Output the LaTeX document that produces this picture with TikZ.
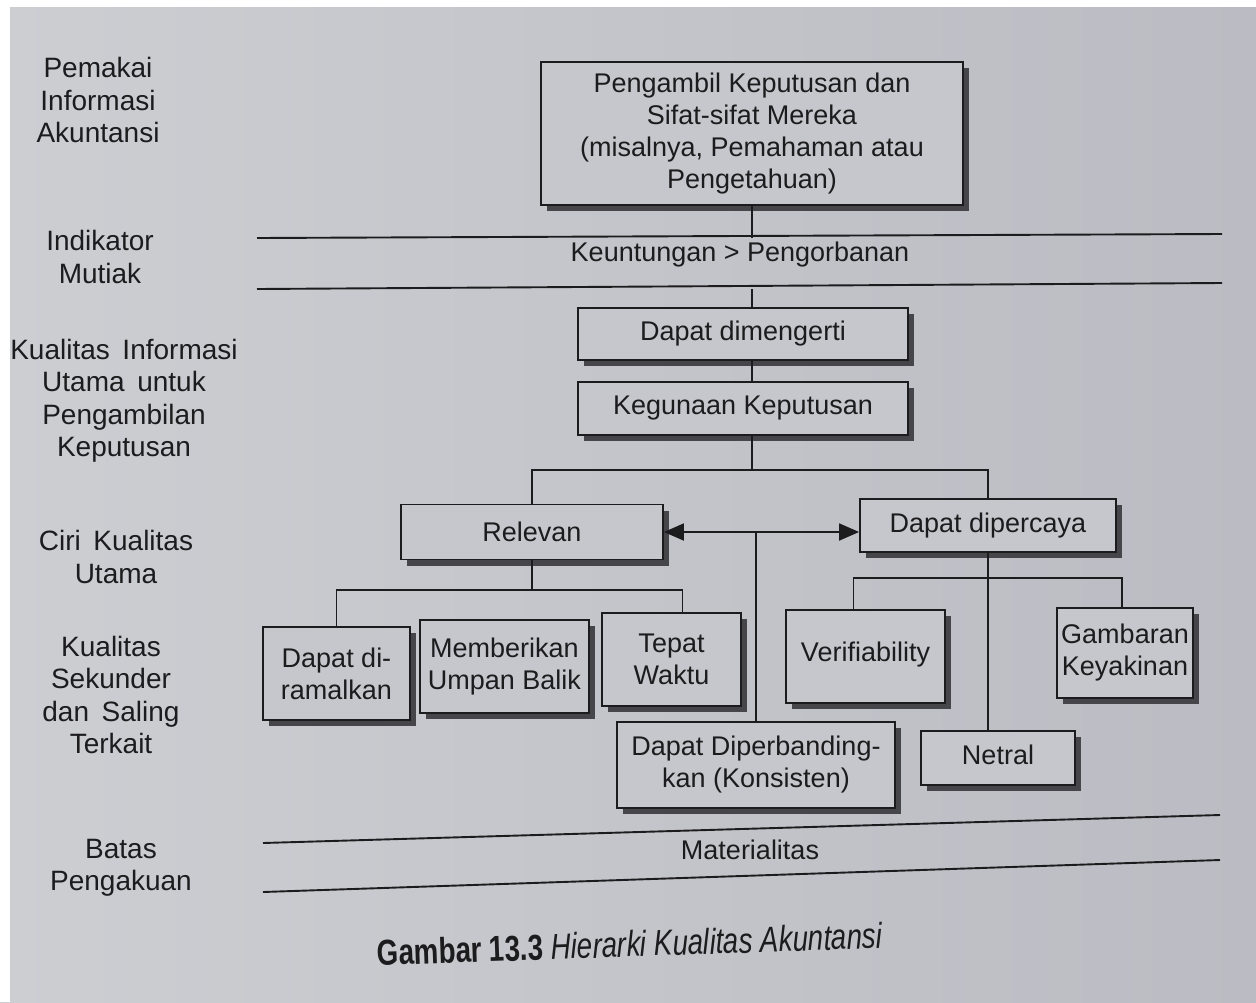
\documentclass[tikz,border=0pt]{standalone}
\usepackage{fontspec}
\setmainfont{Liberation Sans}
\usetikzlibrary{arrows.meta,shadows,calc}
\definecolor{paper}{HTML}{C6C7CC}
\definecolor{paperL}{HTML}{CDCED2}
\definecolor{paperR}{HTML}{BBBCC3}
\definecolor{ink}{HTML}{1C1C1E}
\definecolor{shade}{HTML}{46464A}
% level labels use a slightly larger size with wider word spaces
\newcommand\sidelabelfont{\fontsize{28}{32.5}\selectfont\spaceskip=0.45em\relax}

\begin{document}
\begin{tikzpicture}[x=1pt,y=-1pt,
  every node/.style={text=ink, font=\fontsize{27}{32}\selectfont, inner sep=0pt},
  box/.style={draw=ink, line width=1.8pt, fill=paper, align=center,
    drop shadow={shadow xshift=6pt, shadow yshift=-6pt, fill=shade, opacity=1}},
  sidelabel/.style={align=center, font=\sidelabelfont},
  wire/.style={draw=ink, line width=1.8pt},
  rulepen/.style={draw=ink, line width=1.9pt},
  tip/.style={-{Triangle[length=20pt,width=17pt]}},
]
\useasboundingbox (0,0) rectangle (1256,1002);

% page
\shade[left color=paperL, right color=paperR] (0,0) rectangle (1256,1002);

% level labels on the left
\node[sidelabel] (lvA) at (98,100)  {Pemakai\\Informasi\\Akuntansi};
\node[sidelabel] (lvB) at (100,257) {Indikator\\Mutiak};
\node[sidelabel] (lvC) at (124,401) {Kualitas Informasi\\Utama untuk\\Pengambilan\\Keputusan};
\node[sidelabel] (lvD) at (116,557) {Ciri Kualitas\\Utama};
\node[sidelabel] (lvE) at (111,695) {Kualitas\\Sekunder\\dan Saling\\Terkait};
\node[sidelabel] (lvF) at (121,868) {Batas\\Pengakuan};

% horizontal rules
\coordinate (r1a) at (257,238); \coordinate (r1b) at (1222,234);
\coordinate (r2a) at (257,289); \coordinate (r2b) at (1222,283);
\coordinate (r3a) at (263,843); \coordinate (r3b) at (1220,815);
\coordinate (r4a) at (263,892); \coordinate (r4b) at (1220,860);
\draw[rulepen] (r1a) -- (r1b);
\draw[rulepen] (r2a) -- (r2b);
\draw[rulepen] (r3a) -- (r3b);
\draw[rulepen] (r4a) -- (r4b);
\node (kp)  at (740,255) {Keuntungan > Pengorbanan};
\node (mat) at (750,850) {Materialitas};

% boxes
\node[box, minimum width=422pt, minimum height=143pt] (top) at (752,133.5)
  {Pengambil Keputusan dan\\Sifat-sifat Mereka\\(misalnya, Pemahaman atau\\Pengetahuan)};
\node[box, minimum width=330pt, minimum height=52pt] (dm) at (743,334) {Dapat dimengerti};
\node[box, minimum width=330pt, minimum height=53pt] (kk) at (743,408.5) {Kegunaan Keputusan};
\node[box, minimum width=262pt, minimum height=55pt] (rel) at (532,532) {Relevan};
\node[box, minimum width=256pt, minimum height=53pt] (dp) at (988,525.5) {Dapat dipercaya};

\node[box, minimum width=147pt, minimum height=93pt] (pred) at (336.5,673.5) {Dapat di-\\ramalkan};
\node[box, minimum width=169pt, minimum height=93pt] (umb)  at (504.5,666.5) {Memberikan\\Umpan Balik};
\node[box, minimum width=139pt, minimum height=93pt] (tw)   at (671.5,659.5) {Tepat\\Waktu};
\node[box, minimum width=159pt, minimum height=93pt] (ver)  at (865.5,656.5) {\raisebox{9pt}{Verifiability}};
\node[box, minimum width=136pt, minimum height=90pt] (gk)   at (1125,653) {Gambaran\\Keyakinan};
\node[box, minimum width=278pt, minimum height=86pt] (cmp)  at (756,765) {Dapat Diperbanding-\\kan (Konsisten)};
\node[box, minimum width=154pt, minimum height=54pt] (net)  at (998,758) {\raisebox{6pt}{Netral}};

% spine and branching points
\coordinate (spine) at (752,0);
\coordinate (split) at (752,470);
\coordinate (rsplit) at (532,590);
\coordinate (dsplit) at (988,578);

\draw[wire] (top.south) -- (top.south |- r1a);
\draw[wire] (spine |- r2a) -- (spine |- dm.north);
\draw[wire] (spine |- dm.south) -- (spine |- kk.north);
\draw[wire] (spine |- kk.south) -- (split);
\draw[wire] (rel.north) -- (rel.north |- split) -- (dp.north |- split) -- (dp.north);

% relevance <-> reliability
\draw[wire, tip] ($(rel.east)!0.5!(rel.east -| dp.west)$) -- (rel.east);
\draw[wire, tip] ($(rel.east)!0.5!(rel.east -| dp.west)$) -- (rel.east -| dp.west);
\draw[wire] (cmp.north |- rel.east) -- (cmp.north);

% branches under Relevan
\draw[wire] (rel.south) -- (rsplit);
\draw[wire] (pred.north) -- (pred.north |- rsplit) -- ($(tw.north |- rsplit)+(11,0)$) -- ($(tw.north)+(11,0)$);

% branches under Dapat dipercaya
\draw[wire] (dp.south) -- (dp.south |- net.north);
\draw[wire] ($(ver.north)+(-12,0)$) -- ($(ver.north |- dsplit)+(-12,0)$) -- ($(gk.north |- dsplit)+(-3,0)$) -- ($(gk.north)+(-3,0)$);

% caption
\node[rotate=2, font=\fontsize{36}{40}\selectfont, xscale=0.77] (cap) at (630,944)
  {\textbf{Gambar 13.3} \textit{Hierarki Kualitas Akuntansi}};

% photo edges
\fill[white] (0,0) rectangle (1256,7);
\fill[white] (0,0) rectangle (10,1002);
\end{tikzpicture}
\end{document}
